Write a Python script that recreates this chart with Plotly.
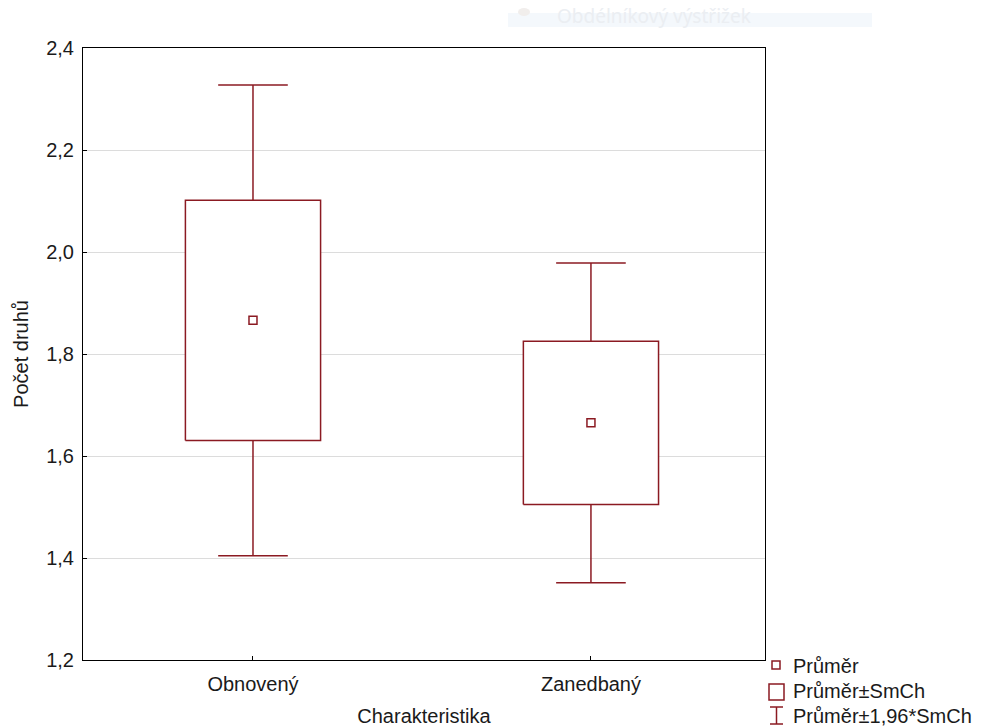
import plotly.graph_objects as go

# Group means and standard errors of the species count
categories = ["Obnovený", "Zanedbaný"]
means = [1.866, 1.665]
std_errs = [0.2355, 0.160]
ci_factor = 1.96

y_ticks = [1.2, 1.4, 1.6, 1.8, 2.0, 2.2, 2.4]

RED = "#8B1A22"
FONT = "Liberation Sans, Arial, sans-serif"
FS = 20
BOX_HALF = 0.2
CAP_HALF = 0.103

fig = go.Figure()

for i, (m, se) in enumerate(zip(means, std_errs)):
    lo_box, hi_box = m - se, m + se
    lo_w, hi_w = m - ci_factor * se, m + ci_factor * se
    # whiskers (mean ± 1.96*SE)
    fig.add_trace(go.Scatter(
        x=[i, i, None, i - CAP_HALF, i + CAP_HALF, None,
           i, i, None, i - CAP_HALF, i + CAP_HALF],
        y=[hi_box, hi_w, None, hi_w, hi_w, None,
           lo_box, lo_w, None, lo_w, lo_w],
        mode="lines", line=dict(color=RED, width=1.5),
        hoverinfo="skip", showlegend=False))
    # box (mean ± SE)
    fig.add_trace(go.Scatter(
        x=[i - BOX_HALF, i + BOX_HALF, i + BOX_HALF, i - BOX_HALF, i - BOX_HALF],
        y=[lo_box, lo_box, hi_box, hi_box, lo_box],
        mode="lines", fill="toself", fillcolor="white",
        line=dict(color=RED, width=1.5),
        hoverinfo="skip", showlegend=False))

# means
fig.add_trace(go.Scatter(
    x=list(range(len(categories))), y=means, mode="markers",
    marker=dict(symbol="square-open", size=8, color=RED, line=dict(width=1.5)),
    showlegend=False))

fig.update_layout(
    width=981, height=727,
    margin=dict(l=83, r=216, t=48, b=67),
    paper_bgcolor="white", plot_bgcolor="white",
    separators=", ",
    font=dict(family=FONT, size=FS, color="#1a1a1a"),
    xaxis=dict(
        range=[-0.503, 1.515], tickmode="array",
        tickvals=list(range(len(categories))), ticktext=categories,
        ticks="inside", ticklen=4, tickcolor="black",
        ticklabelstandoff=6, automargin=False,
        showline=True, linecolor="black", linewidth=1, mirror=True,
        showgrid=False, zeroline=False,
        title=dict(text="Charakteristika", standoff=14, font=dict(size=FS)),
    ),
    yaxis=dict(
        range=[1.2, 2.4], tickvals=y_ticks, tickformat=".1f",
        ticks="inside", ticklen=4, tickcolor="black",
        ticklabelstandoff=4, automargin=False,
        showline=True, linecolor="black", linewidth=1, mirror=True,
        showgrid=True, gridcolor="#DCDCDC", gridwidth=1, zeroline=False,
        title=dict(text="Počet druhů", standoff=12, font=dict(size=FS)),
    ),
)

# legend drawn by hand (paper coordinates)
def px(x):
    return (x - 83) / (981 - 83 - 216)

def py(y):
    return (727 - 67 - y) / (727 - 48 - 67)

legend_shapes = [
    dict(type="rect", x0=px(772), x1=px(780), y0=py(669), y1=py(661),
         line=dict(color=RED, width=1.5)),
    dict(type="rect", x0=px(769), x1=px(784), y0=py(700), y1=py(684),
         line=dict(color=RED, width=1.5)),
    dict(type="line", x0=px(776.5), x1=px(776.5), y0=py(724), y1=py(707),
         line=dict(color=RED, width=1.5)),
    dict(type="line", x0=px(770), x1=px(783), y0=py(707), y1=py(707),
         line=dict(color=RED, width=1.5)),
    dict(type="line", x0=px(770), x1=px(783), y0=py(724), y1=py(724),
         line=dict(color=RED, width=1.5)),
]
for s in legend_shapes:
    s.update(xref="paper", yref="paper", layer="above")
    fig.add_shape(**s)

legend_labels = ["Průměr", "Průměr±SmCh", "Průměr±1,96*SmCh"]
legend_y = [666, 691, 716]
for lab, yy in zip(legend_labels, legend_y):
    fig.add_annotation(x=px(791), y=py(yy), xref="paper", yref="paper",
                       text=lab, showarrow=False, xanchor="left", yanchor="middle",
                       font=dict(size=FS, color="#1a1a1a", family=FONT))

# faint banner strip at the top of the page
fig.add_shape(type="rect", xref="paper", yref="paper",
              x0=px(508), x1=px(872), y0=py(27), y1=py(13),
              line=dict(width=0), fillcolor="#F4F8FC", layer="below")
fig.add_shape(type="circle", xref="paper", yref="paper",
              x0=px(518), x1=px(530), y0=py(16), y1=py(8),
              line=dict(width=0), fillcolor="#F1EEEC", layer="below")
fig.add_annotation(x=px(555), y=py(1), xref="paper", yref="paper",
                   text="Obdélníkový výstřižek", showarrow=False,
                   xanchor="left", yanchor="top",
                   font=dict(size=19, color="#EBEEF2", family="Noto Sans, sans-serif"))

fig.write_html("out.html")
